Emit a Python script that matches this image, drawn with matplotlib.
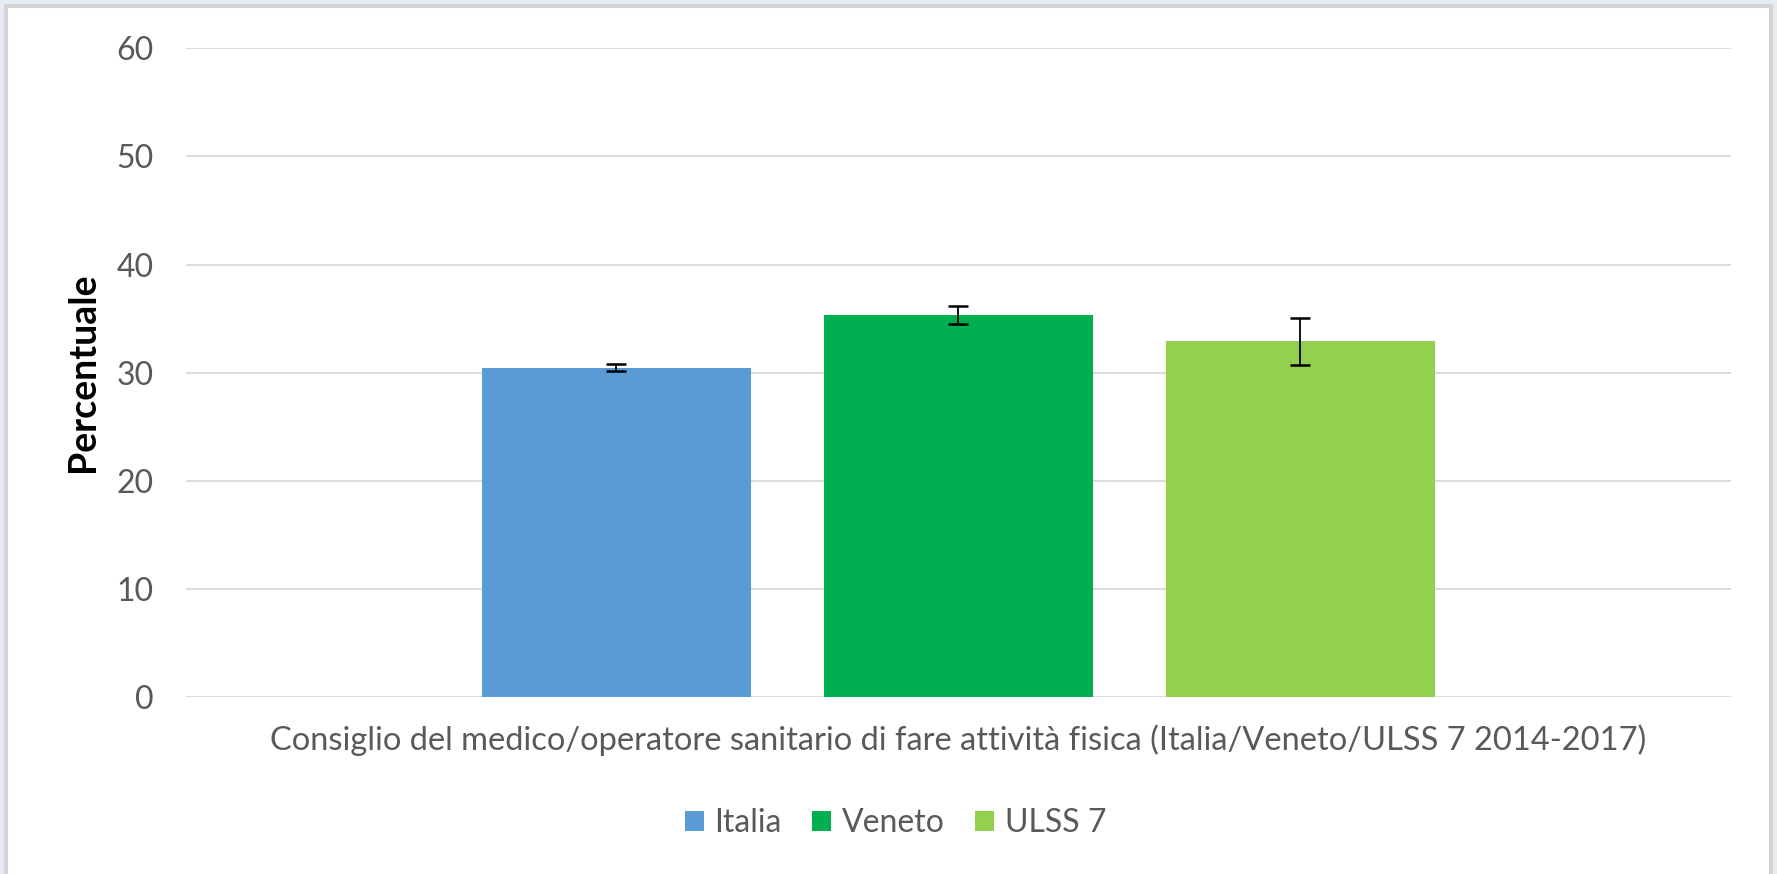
import matplotlib
matplotlib.use("Agg")
import matplotlib.pyplot as plt
from matplotlib.patches import Rectangle

# dati
series = ["Italia", "Veneto", "ULSS 7"]
values = [30.4, 35.3, 32.9]
err_low = [0.25, 0.8, 2.2]
err_high = [0.45, 0.85, 2.2]
colors = ["#5b9bd5", "#00b050", "#92d050"]
yticks = [0, 10, 20, 30, 40, 50, 60]
xlabel = "Consiglio del medico/operatore sanitario di fare attività fisica (Italia/Veneto/ULSS 7 2014-2017)"

plt.rcParams['font.family'] = ['Lato', 'DejaVu Sans']
grey = "#595959"

fig = plt.figure(figsize=(17.77, 8.74), dpi=100, facecolor="#e6ecf3")
# area del grafico bianca con bordo grigio
fig.patches.append(Rectangle((6/1777, -0.05), (1771-6)/1777, 1.05 - 6/874,
                             transform=fig.transFigure, facecolor="white",
                             edgecolor="#d4d4d4", lw=3, zorder=-10))

ax = fig.add_axes([0.1045, 0.2024, 0.8696, 0.7423])
ax.set_facecolor("none")
x = [-1, 0, 1]
for i in range(3):
    ax.bar(x[i], values[i], width=0.787, color=colors[i], label=series[i], zorder=2)
    ax.errorbar(x[i], values[i], yerr=[[err_low[i]], [err_high[i]]], fmt="none",
                ecolor="black", elinewidth=1.3, capsize=7, capthick=1.8, zorder=3)

ax.set_xlim(-2.26, 2.26)
ax.set_ylim(0, 60)
ax.set_yticks(yticks)
ax.set_xticks([])
ax.grid(axis="y", color="#d9d9d9", lw=1.3, zorder=0)
for s in ax.spines.values():
    s.set_visible(False)
ax.tick_params(axis="y", length=0, pad=23, labelsize=23, labelcolor=grey)
ax.set_xlabel(xlabel, fontsize=23.5, color=grey, labelpad=20)
ax.set_ylabel("Percentuale", fontsize=27, fontweight="bold", color="black", labelpad=12)

fig.legend(loc="center", bbox_to_anchor=(0.504, 0.058), ncol=3, frameon=False,
           fontsize=23, labelcolor=grey, handlelength=0.6, handleheight=0.6,
           handletextpad=0.33, columnspacing=0.95)

fig.savefig("out.png", dpi=100, facecolor=fig.get_facecolor())
